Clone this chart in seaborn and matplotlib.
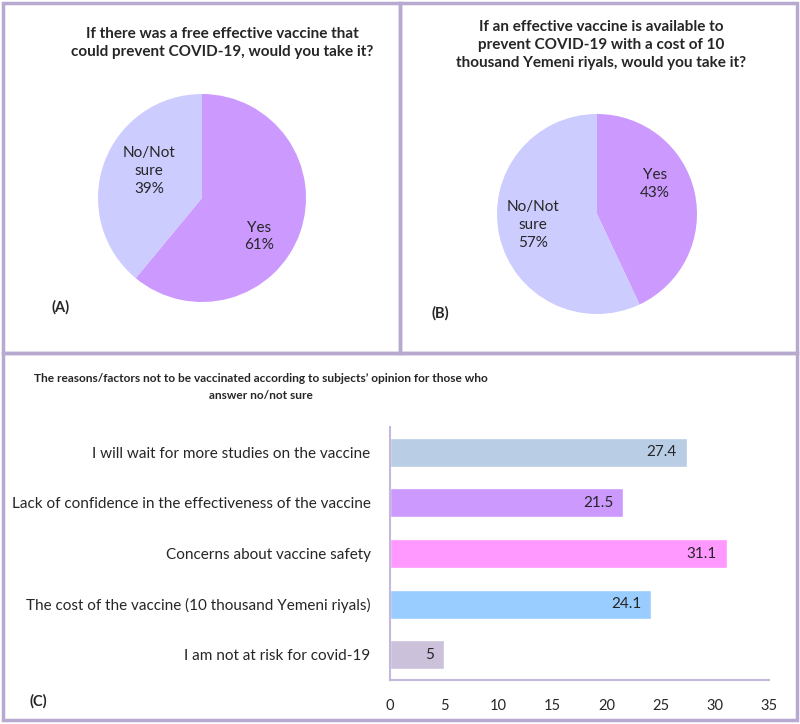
import numpy as np
import pandas as pd
import matplotlib
matplotlib.use("Agg")
import matplotlib.pyplot as plt
import seaborn as sns
from matplotlib.patches import Rectangle

# =====================================================
# DATA
# =====================================================

pie_labels = ["Yes", "No/Not\nsure"]
free_vaccine = [61, 39]
paid_vaccine = [43, 57]
pie_colors = ["#CC99FF", "#CCCCFF"]

reasons = [
    "I will wait for more studies on the vaccine",
    "Lack of confidence in the effectiveness of the vaccine",
    "Concerns about vaccine safety",
    "The cost of the vaccine (10 thousand Yemeni riyals)",
    "I am not at risk for covid-19",
]
reason_values = [27.4, 21.5, 31.1, 24.1, 5]
bar_colors = ["#B9CDE5", "#CC99FF", "#FF99FF", "#99CCFF", "#CCC1DA"]
x_ticks = [0, 5, 10, 15, 20, 25, 30, 35]

# =====================================================
# STYLE
# =====================================================

sns.set_style("white")
plt.rcParams["font.family"] = ["Lato", "DejaVu Sans"]
frame_color = "#B7A9D0"

W, H = 800, 724
fig = plt.figure(figsize=(W / 100, H / 100), dpi=100)


def px_axes(left, top, right, bottom):
    return fig.add_axes([left / W, 1 - bottom / H, (right - left) / W, (bottom - top) / H])


# panel frames
for x0, y0, x1, y1 in [(3, 3, 400, 353), (400, 3, 797, 353), (3, 353, 797, 720)]:
    fig.patches.append(Rectangle((x0 / W, 1 - y1 / H), (x1 - x0) / W, (y1 - y0) / H,
                                 transform=fig.transFigure, fill=False,
                                 edgecolor=frame_color, linewidth=2.5))

# =====================================================
# PIE A
# =====================================================

axA = px_axes(98, 94, 306, 302)
axA.pie(free_vaccine, colors=pie_colors, startangle=90, counterclock=False,
        radius=1, wedgeprops=dict(linewidth=0))
axA.set_xlim(-1, 1)
axA.set_ylim(-1, 1)
axA.set_aspect("equal")
axA.axis("off")
axA.text(0.55, -0.37, f"{pie_labels[0]}\n{free_vaccine[0]}%", ha="center", va="center",
         fontsize=11, linespacing=1.35)
axA.text(-0.51, 0.26, f"{pie_labels[1]}\n{free_vaccine[1]}%", ha="center", va="center",
         fontsize=11, linespacing=1.35)

fig.text(222 / W, 1 - 43 / H,
         "If there was a free effective vaccine that\ncould prevent COVID-19, would you take it?",
         ha="center", va="center", fontsize=11, fontweight="bold", linespacing=1.4)
fig.text(61 / W, 1 - 307 / H, "(A)", ha="center", va="center", fontsize=10.5, fontweight="bold")

# =====================================================
# PIE B
# =====================================================

axB = px_axes(497, 114, 697, 314)
axB.pie(paid_vaccine, colors=pie_colors, startangle=90, counterclock=False,
        radius=1, wedgeprops=dict(linewidth=0))
axB.set_xlim(-1, 1)
axB.set_ylim(-1, 1)
axB.set_aspect("equal")
axB.axis("off")
axB.text(0.58, 0.3, f"{pie_labels[0]}\n{paid_vaccine[0]}%", ha="center", va="center",
         fontsize=11, linespacing=1.35)
axB.text(-0.64, -0.11, f"{pie_labels[1]}\n{paid_vaccine[1]}%", ha="center", va="center",
         fontsize=11, linespacing=1.35)

fig.text(601 / W, 1 - 45 / H,
         "If an effective vaccine is available to\nprevent COVID-19 with a cost of 10\n"
         "thousand Yemeni riyals, would you take it?",
         ha="center", va="center", fontsize=11, fontweight="bold", linespacing=1.4)
fig.text(440 / W, 1 - 313 / H, "(B)", ha="center", va="center", fontsize=10.5, fontweight="bold")

# =====================================================
# BAR CHART C
# =====================================================

df = pd.DataFrame({"Reason": reasons, "Percent": reason_values})

axC = px_axes(390, 427, 769, 680)
sns.barplot(data=df, x="Percent", y="Reason", hue="Reason", palette=bar_colors,
            legend=False, width=0.57, saturation=1, ax=axC, orient="h")

axC.set_xlim(0, 35)
axC.set_xticks(x_ticks)
axC.set_xticklabels([str(t) for t in x_ticks], fontsize=10.5)
axC.set_yticklabels(reasons, fontsize=11)
axC.set_xlabel("")
axC.set_ylabel("")
axC.tick_params(axis="both", length=0)
axC.tick_params(axis="x", pad=14)
axC.tick_params(axis="y", pad=14)
for side in ["top", "right"]:
    axC.spines[side].set_visible(False)
for side in ["left", "bottom"]:
    axC.spines[side].set_color("#C4B8DC")
    axC.spines[side].set_linewidth(1.5)

for p, v in zip(axC.patches, reason_values):
    axC.annotate(f"{v:g}", (p.get_width(), p.get_y() + p.get_height() / 2),
                 xytext=(-7, 0), textcoords="offset points",
                 ha="right", va="center", fontsize=11)

fig.text(261 / W, 1 - 387 / H,
         "The reasons/factors not to be vaccinated according to subjects\u2019 opinion for those who\n"
         "answer no/not sure",
         ha="center", va="center", fontsize=8.6, fontweight="bold", linespacing=1.75)
fig.text(38 / W, 1 - 701 / H, "(C)", ha="center", va="center", fontsize=10.5, fontweight="bold")

fig.savefig("out.png", dpi=100)
